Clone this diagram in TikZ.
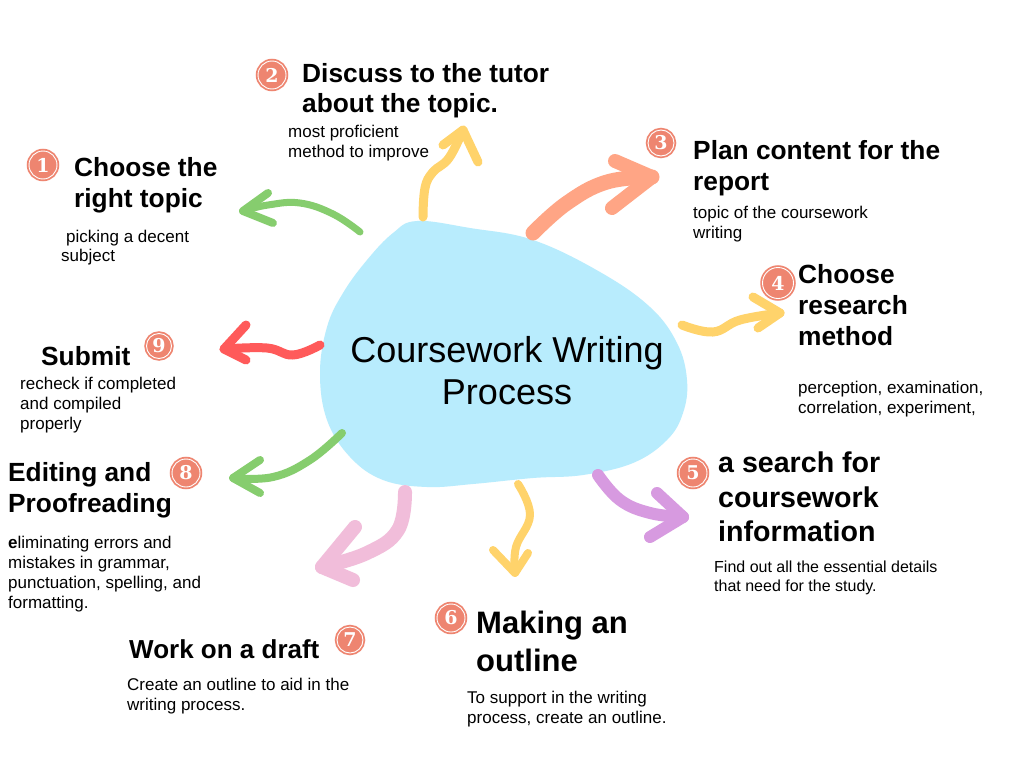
\documentclass[tikz,border=0pt]{standalone}
\usepackage{fontspec}
\setmainfont{Liberation Sans}
\newfontfamily\numfont{DejaVu Serif}
\definecolor{blobc}{HTML}{B8ECFD}
\definecolor{numc}{HTML}{EE8570}
\definecolor{grn}{HTML}{86CD6E}
\definecolor{ylw}{HTML}{FFD36B}
\definecolor{slm}{HTML}{FFA585}
\definecolor{prp}{HTML}{D79AE0}
\definecolor{pnk}{HTML}{F1BDDA}
\definecolor{rdc}{HTML}{FF5A5A}
\begin{document}
\begin{tikzpicture}[x=1pt,y=-1pt,
  head/.style={anchor=base west,inner sep=0,font=\fontsize{26.3}{31}\selectfont\bfseries},
  bighead/.style={anchor=base west,inner sep=0,font=\fontsize{31}{37}\selectfont\bfseries},
  body/.style={anchor=base west,inner sep=0,font=\fontsize{17}{20}\selectfont},
  brush/.style={line cap=round,line join=round},
  numcirc/.style={circle,fill=numc,draw=white,line width=0.9pt,inner sep=0,outer sep=0,
     minimum size=#1,preaction={draw=numc,line width=4.5pt},text=white,
     font=\numfont\bfseries\fontsize{19}{19}\selectfont}
]
\useasboundingbox (0,0) rectangle (1024,768);
\fill[white] (0,0) rectangle (1024,768);

% central blob
\fill[blobc] plot[smooth cycle,tension=0.65] coordinates {
 (417,221) (470,228) (533,240) (600,272) (650,307) (677,343) (687,380) (683,413)
 (667,440) (633,463) (583,475) (533,478) (473,484) (427,487) (383,480) (350,457)
 (327,420) (320,373) (327,327) (343,293) (367,260) (393,233)};
\node[anchor=base,inner sep=0,font=\fontsize{36}{43}\selectfont] (ctra) at (507,362) {Coursework Writing};
\node[anchor=base,inner sep=0,font=\fontsize{36}{43}\selectfont] (ctrb) at (507,404) {Process};

% arrows: tails and tips
\coordinate (t1) at (360,232); \coordinate (h1) at (243,211);
\coordinate (t2) at (423,217); \coordinate (h2) at (463,130);
\coordinate (t3) at (533,233); \coordinate (h3) at (652,177);
\coordinate (t4) at (682,325); \coordinate (h4) at (780,313);
\coordinate (t5) at (598,475); \coordinate (h5) at (683,517);
\coordinate (t6) at (518,484); \coordinate (h6) at (515,573);
\coordinate (t7) at (405,492); \coordinate (h7) at (322,567);
\coordinate (t8) at (342,433); \coordinate (h8) at (233,478);
\coordinate (t9) at (320,345); \coordinate (h9) at (224,349);

\draw[brush,grn,line width=7] plot[smooth,tension=0.7] coordinates {(t1) (333,214) (300,203) (268,205) (h1)};
\draw[brush,grn,line width=8] (268,193) -- (h1) -- (273,223);

\draw[brush,ylw,line width=9] plot[smooth,tension=0.7] coordinates {(t2) (425,188) (433,172) (449,158) (h2)};
\draw[brush,ylw,line width=9] (443,145) -- (h2) -- (478,162);

\draw[brush,slm,line width=15] plot[smooth,tension=0.7] coordinates {(t3) (567,203) (607,182) (h3)};
\draw[brush,slm,line width=14] (615,161) -- (h3) -- (612,208);

\draw[brush,ylw,line width=9] plot[smooth,tension=0.7] coordinates {(t4) (713,332) (740,320) (h4)};
\draw[brush,ylw,line width=9] (753,297) -- (h4) -- (758,328);

\draw[brush,prp,line width=12] plot[smooth,tension=0.7] coordinates {(t5) (620,500) (650,513) (h5)};
\draw[brush,prp,line width=12] (657,493) -- (h5) -- (650,537);

\draw[brush,ylw,line width=8] plot[smooth,tension=0.7] coordinates {(t6) (530,515) (516,547) (h6)};
\draw[brush,ylw,line width=8] (493,550) -- (h6) -- (528,553);

\draw[brush,pnk,line width=14] plot[smooth,tension=0.7] coordinates {(t7) (398,530) (367,553) (h7)};
\draw[brush,pnk,line width=14] (355,527) -- (h7) -- (353,580);

\draw[brush,grn,line width=8] plot[smooth,tension=0.7] coordinates {(t8) (310,460) (273,477) (h8)};
\draw[brush,grn,line width=8] (260,460) -- (h8) -- (260,493);

\draw[brush,rdc,line width=9] plot[smooth,tension=0.7] coordinates {(t9) (293,355) (267,348) (h9)};
\draw[brush,rdc,line width=9] (246,325) -- (h9) -- (246,360);

% number circles
\node[numcirc=28] (c1) at (43,165) {1};
\node[numcirc=28] (c2) at (272,75) {2};
\node[numcirc=26] (c3) at (661,143) {3};
\node[numcirc=31] (c4) at (778,283) {4};
\node[numcirc=28] (c5) at (693,473) {5};
\node[numcirc=28] (c6) at (451,618) {6};
\node[numcirc=26] (c7) at (350,640) {7};
\node[numcirc=28] (c8) at (186,473) {8};
\node[numcirc=25] (c9) at (159,346) {9};

% 1
\node[head] (h1a) at (74,176) {Choose the};
\node[head] (h1b) at (74,207) {right topic};
\node[body] (b1a) at (66,242) {picking a decent};
\node[body] (b1b) at (61,261) {subject};
% 2
\node[head] (h2a) at (302,82) {Discuss to the tutor};
\node[head] (h2b) at (302,112) {about the topic.};
\node[body] (b2a) at (288,137) {most proficient};
\node[body] (b2b) at (288,157) {method to improve};
% 3
\node[head] (h3a) at (693,159) {Plan content for the};
\node[head] (h3b) at (693,190) {report};
\node[body] (b3a) at (693,218) {topic of the coursework};
\node[body] (b3b) at (693,238) {writing};
% 4
\node[head] (h4a) at (798,283) {Choose};
\node[head] (h4b) at (798,314) {research};
\node[head] (h4c) at (798,345) {method};
\node[body] (b4a) at (798,393) {perception, examination,};
\node[body] (b4b) at (798,413) {correlation, experiment,};
% 5
\node[bighead,font=\fontsize{28.6}{34}\selectfont\bfseries] (h5a) at (718,472) {a search for};
\node[bighead,font=\fontsize{28.6}{34}\selectfont\bfseries] (h5b) at (718,507) {coursework};
\node[bighead,font=\fontsize{28.6}{34}\selectfont\bfseries] (h5c) at (718,541) {information};
\node[body,font=\fontsize{16}{19}\selectfont] (b5a) at (714,572) {Find out all the essential details};
\node[body,font=\fontsize{16}{19}\selectfont] (b5b) at (714,591) {that need for the study.};
% 6
\node[bighead] (h6a) at (476,633) {Making an};
\node[bighead] (h6b) at (476,671) {outline};
\node[body] (b6a) at (467,703) {To support in the writing};
\node[body] (b6b) at (467,723) {process, create an outline.};
% 7
\node[head,font=\fontsize{26}{31}\selectfont\bfseries] (h7a) at (129,658) {Work on a draft};
\node[body] (b7a) at (127,690) {Create an outline to aid in the};
\node[body] (b7b) at (127,710) {writing process.};
% 8
\node[head] (h8a) at (8,481) {Editing and};
\node[head] (h8b) at (8,512) {Proofreading};
\node[body] (b8a) at (8,548) {{\bfseries e}liminating errors and};
\node[body] (b8b) at (8,568) {mistakes in grammar,};
\node[body] (b8c) at (8,588) {punctuation, spelling, and};
\node[body] (b8d) at (8,608) {formatting.};
% 9
\node[head] (h9a) at (41,365) {Submit};
\node[body] (b9a) at (20,389) {recheck if completed};
\node[body] (b9b) at (20,409) {and compiled};
\node[body] (b9c) at (20,429) {properly};
\end{tikzpicture}
\end{document}
